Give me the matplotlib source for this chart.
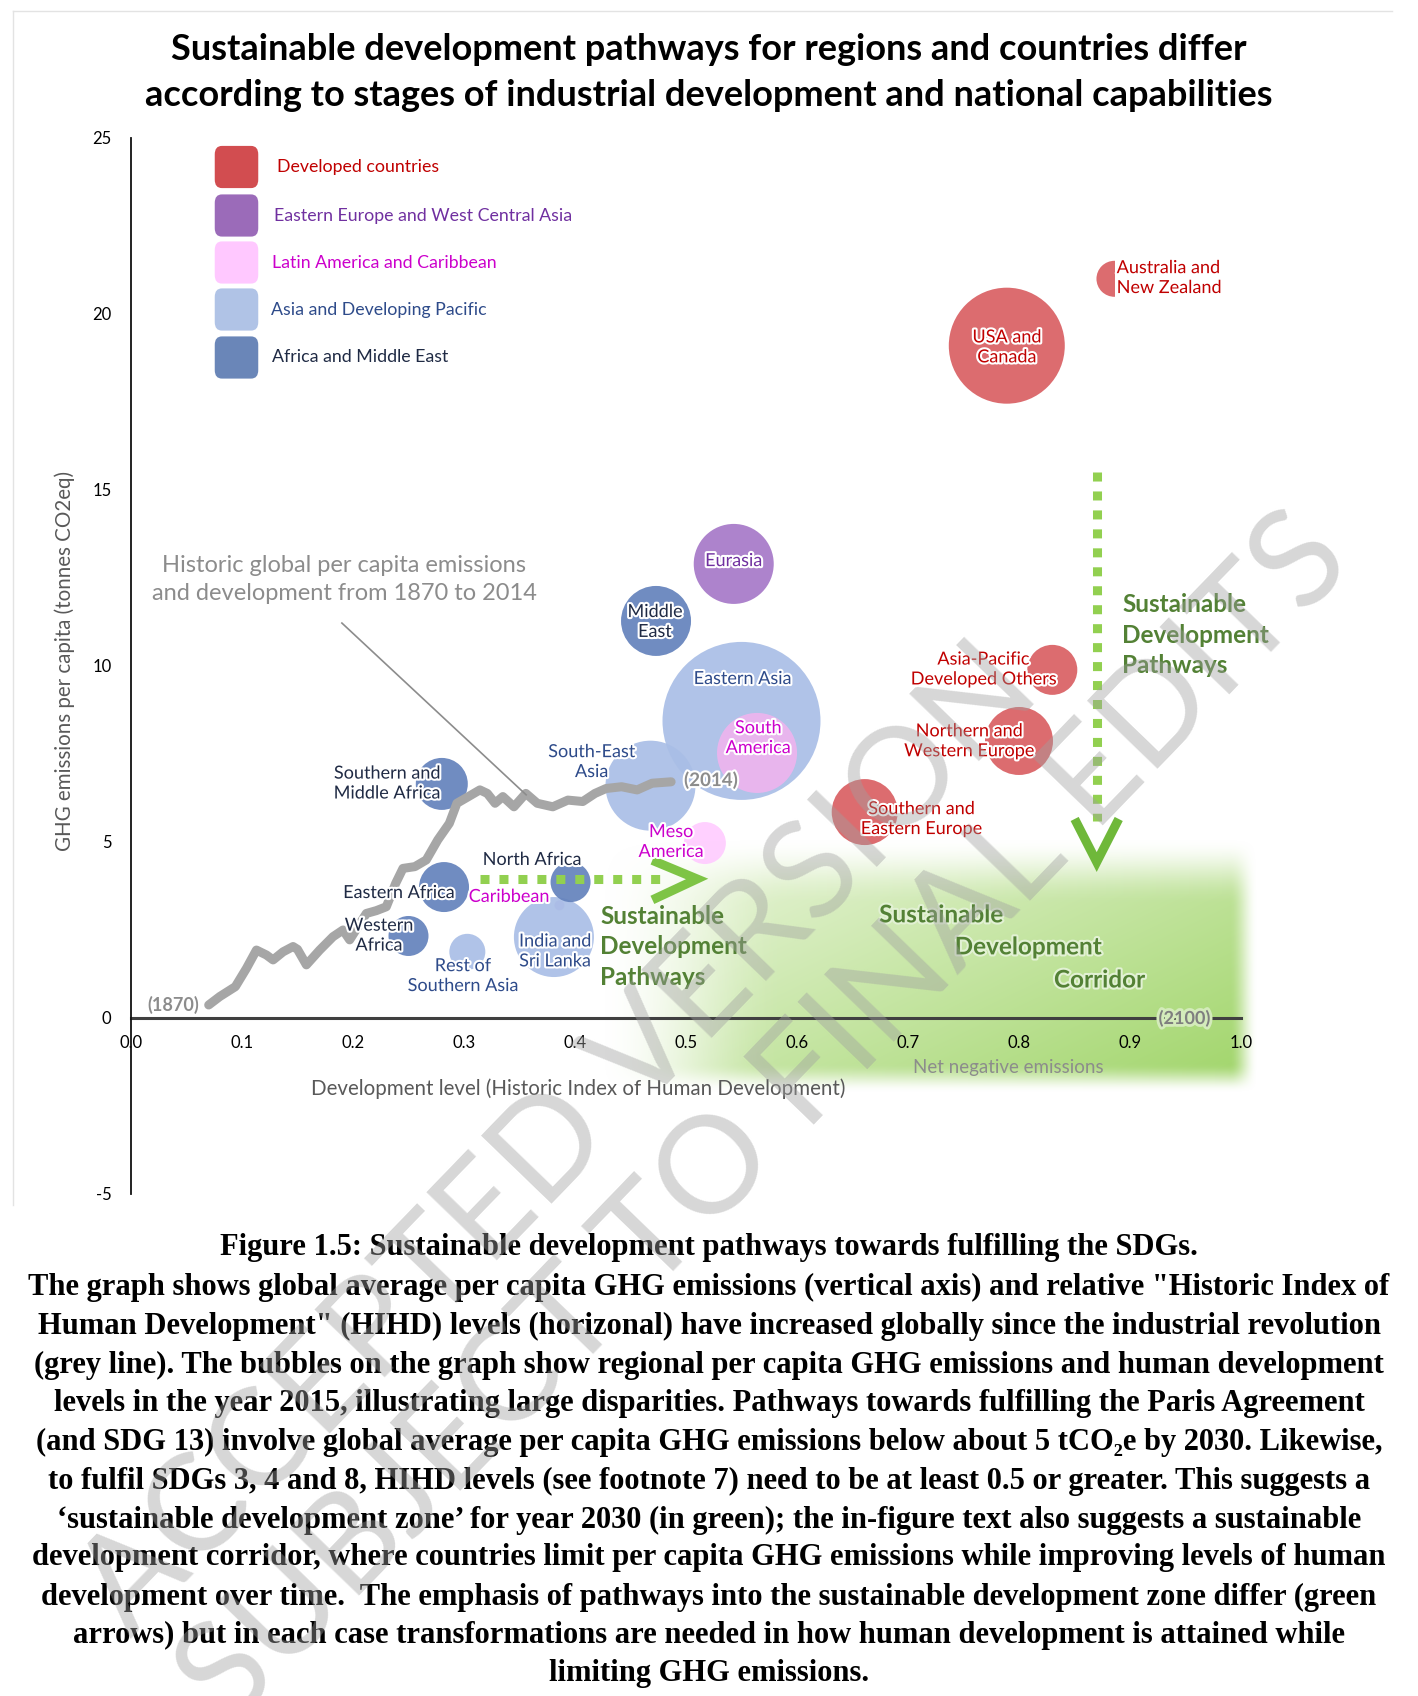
import numpy as np
import matplotlib
matplotlib.use("Agg")
import matplotlib.pyplot as plt
import matplotlib.patheffects as pe
from matplotlib.patches import FancyBboxPatch
from matplotlib.lines import Line2D

# ---- data -------------------------------------------------------------
groups = ["Developed countries", "Eastern Europe and West Central Asia",
          "Latin America and Caribbean", "Asia and Developing Pacific",
          "Africa and Middle East"]
group_colors = ["#D24D50", "#9B6BB9", "#FFC8FF", "#B0C3E6", "#6A86B8"]
group_text = ["#C00000", "#7030A0", "#CC00CC", "#2E4B8A", "#1F2A44"]

regions = ["Australia and New Zealand", "USA and Canada", "Asia-Pacific Developed Others",
           "Northern and Western Europe", "Southern and Eastern Europe", "Eurasia",
           "Eastern Asia", "South America", "Meso America", "Caribbean",
           "South-East Asia", "India and Sri Lanka", "Rest of Southern Asia",
           "Middle East", "North Africa", "Southern and Middle Africa",
           "Eastern Africa", "Western Africa"]
region_group = [0, 0, 0, 0, 0, 1, 3, 2, 2, 2, 3, 3, 3, 4, 4, 4, 4, 4]
hihd = [0.886, 0.789, 0.830, 0.800, 0.661, 0.543, 0.550, 0.564, 0.517, 0.386,
        0.468, 0.381, 0.303, 0.473, 0.396, 0.280, 0.282, 0.250]
ghg = [21.0, 19.1, 9.89, 7.87, 5.85, 12.9, 8.44, 7.53, 4.97, 3.2,
       6.6, 2.30, 1.88, 11.28, 3.86, 6.65, 3.72, 2.33]
bubble_size = [18, 58, 25, 34, 33, 40, 79, 40, 21, 5, 45, 40, 18, 35, 20, 26, 25, 20]

# historic global path 1870-2014
hist_x = [0.070, 0.080, 0.094, 0.104, 0.113, 0.122, 0.128, 0.137, 0.146, 0.150,
          0.158, 0.170, 0.182, 0.191, 0.197, 0.212, 0.221, 0.230, 0.2385, 0.245,
          0.2557, 0.266, 0.2764, 0.2868, 0.2936, 0.304, 0.3143, 0.321, 0.328, 0.335,
          0.345, 0.3557, 0.366, 0.380, 0.3936, 0.407, 0.418, 0.428, 0.442, 0.456,
          0.4695, 0.4866]
hist_y = [0.37, 0.61, 0.89, 1.41, 1.93, 1.79, 1.65, 1.88, 2.03, 1.95,
          1.51, 1.93, 2.31, 2.50, 2.22, 2.97, 3.05, 3.16, 3.83, 4.25,
          4.30, 4.49, 5.06, 5.53, 6.10, 6.29, 6.48, 6.38, 6.10, 6.29,
          6.00, 6.38, 6.10, 6.00, 6.19, 6.15, 6.38, 6.52, 6.57, 6.48,
          6.67, 6.71]

x_ticks = [0.0, 0.1, 0.2, 0.3, 0.4, 0.5, 0.6, 0.7, 0.8, 0.9, 1.0]
y_ticks = [-5, 0, 5, 10, 15, 20, 25]

caption = [
    "Figure 1.5: Sustainable development pathways towards fulfilling the SDGs.",
    "The graph shows global average per capita GHG emissions (vertical axis) and relative \"Historic Index of",
    "Human Development\" (HIHD) levels (horizonal) have increased globally since the industrial revolution",
    "(grey line). The bubbles on the graph show regional per capita GHG emissions and human development",
    "levels in the year 2015, illustrating large disparities. Pathways towards fulfilling the Paris Agreement",
    "(and SDG 13) involve global average per capita GHG emissions below about 5 tCO\u2082e by 2030. Likewise,",
    "to fulfil SDGs 3, 4 and 8, HIHD levels (see footnote 7) need to be at least 0.5 or greater. This suggests a",
    "\u2018sustainable development zone\u2019 for year 2030 (in green); the in-figure text also suggests a sustainable",
    "development corridor, where countries limit per capita GHG emissions while improving levels of human",
    "development over time.  The emphasis of pathways into the sustainable development zone differ (green",
    "arrows) but in each case transformations are needed in how human development is attained while",
    "limiting GHG emissions.",
]

W, H, DPI = 1418, 1696, 100
SANS = "Lato"

fig = plt.figure(figsize=(W / DPI, H / DPI), dpi=DPI)
fig.patch.set_facecolor("white")
# axes box: x 0..1 -> px 131..1241, y -5..25 -> px 1194..138
ax = fig.add_axes([131 / W, (H - 1194) / H, 1110 / W, 1056 / H])
ax.set_xlim(0, 1)
ax.set_ylim(-5, 25)
ax.patch.set_alpha(0)

# faint page border
fig.add_artist(Line2D([13 / W, 13 / W], [1 - 11 / H, 1 - 1205 / H], color="#e3e3e3", lw=1))
fig.add_artist(Line2D([13 / W, 1392 / W], [1 - 11 / H, 1 - 11 / H], color="#e3e3e3", lw=1))

# ---- green zone (gradient) --------------------------------------------
def smooth(t):
    t = np.clip(t, 0, 1)
    return t * t * (3 - 2 * t)

gx = np.linspace(0.40, 1.03, 400)
gy = np.linspace(-2.4, 5.2, 400)
GX, GY = np.meshgrid(gx, gy)
alpha = (smooth((GX - 0.42) / 0.17) * (1 - smooth((GX - 0.99) / 0.025))
         * (1 - smooth((GY - 3.2) / 1.9)) * smooth((GY + 2.15) / 0.85))
t = np.clip((GX - 0.5) / 0.5, 0, 1) * 0.6 + np.clip((3.5 - GY) / 5.0, 0, 1) * 0.4
pale = np.array([0.89, 0.95, 0.82])
strong = np.array([0.64, 0.84, 0.43])
rgba = np.zeros(GX.shape + (4,))
rgba[..., :3] = pale * (1 - t[..., None]) + strong * t[..., None]
rgba[..., 3] = alpha
ax.imshow(rgba, extent=[gx[0], gx[-1], gy[0], gy[-1]], origin="lower",
          aspect="auto", zorder=0, clip_on=False, interpolation="bilinear")
ax.set_xlim(0, 1)
ax.set_ylim(-5, 25)

# ---- spines / ticks ---------------------------------------------------
for s in ["top", "right"]:
    ax.spines[s].set_visible(False)
ax.spines["left"].set_position(("data", 0))
ax.spines["left"].set_linewidth(1.3)
ax.spines["left"].set_color("#111111")
ax.spines["bottom"].set_position(("data", 0))
ax.spines["bottom"].set_linewidth(2.2)
ax.spines["bottom"].set_color("#404040")
ax.spines["bottom"].set_zorder(1)
ax.set_xticks(x_ticks)
ax.set_xticklabels([f"{v:.1f}" for v in x_ticks])
ax.set_yticks(y_ticks)
ax.set_yticklabels([str(v) for v in y_ticks])
ax.tick_params(axis="both", length=0, labelsize=12)
ax.tick_params(axis="x", pad=12)
ax.tick_params(axis="y", pad=14)
for lab in ax.get_xticklabels() + ax.get_yticklabels():
    lab.set_family(SANS)

ax.text(0.403, -2.02, "Development level (Historic Index of Human Development)",
        ha="center", va="center", fontsize=14.8, color="#595959", family=SANS)
ax.text(-0.0595, 10.14, "GHG emissions per capita (tonnes CO2eq)", rotation=90,
        ha="center", va="center", fontsize=14.8, color="#595959", family=SANS,
        clip_on=False)

# ---- bubbles ----------------------------------------------------------
bub_cols = {0: "#D95F63", 1: "#A678C8", 2: "#FFCCFF", 3: "#A9BEE6", 4: "#6482BC"}
face = [bub_cols[g] for g in region_group]
face[regions.index("South America")] = "#EEB4EE"
face[regions.index("Caribbean")] = "#C8A8E8"
sizes = [(2 * r * 72 / DPI) ** 2 for r in bubble_size]
ax.scatter(hihd, ghg, s=sizes, c=face, alpha=0.92, linewidths=0, zorder=2, clip_on=False)

# historic line
ax.plot(hist_x, hist_y, color="#A6A6A6", lw=6.5, solid_capstyle="round",
        solid_joinstyle="round", zorder=3)
ax.plot([0.190, 0.356], [11.22, 6.34], color="#8c8c8c", lw=1.2, zorder=3)

# ---- arrows -----------------------------------------------------------
arrow_green = "#92D050"
ax.plot([0.314, 0.479], [3.95, 3.95], color=arrow_green, lw=6.5,
        linestyle=(0, (1, 1.1)), dash_capstyle="butt", zorder=4)
ax.plot([0.4734, 0.510, 0.4734], [4.43, 3.95, 3.41], color="#7EC445", lw=6.5,
        solid_joinstyle="miter", zorder=4)
ax.plot([0.870, 0.870], [15.5, 5.6], color=arrow_green, lw=6.5,
        linestyle=(0, (1, 1.1)), dash_capstyle="butt", zorder=4)
ax.plot([0.852, 0.870, 0.888], [5.54, 4.43, 5.54], color="#6FB83A", lw=6.5,
        solid_joinstyle="miter", zorder=4)

# ---- labels -----------------------------------------------------------
glow = [pe.withStroke(linewidth=3, foreground="white")]
lbl = [
    ("Australia and\nNew Zealand", 0.888, 21.02, "left", group_text[0]),
    ("USA and\nCanada", 0.789, 19.05, "center", group_text[0]),
    ("Asia-Pacific\nDeveloped Others", 0.768, 9.90, "center", group_text[0]),
    ("Northern and\nWestern Europe", 0.755, 7.86, "center", group_text[0]),
    ("Southern and\nEastern Europe", 0.712, 5.65, "center", group_text[0]),
    ("Eurasia", 0.543, 12.98, "center", group_text[1]),
    ("Eastern Asia", 0.551, 9.63, "center", group_text[3]),
    ("South\nAmerica", 0.565, 7.95, "center", group_text[2]),
    ("Meso\nAmerica", 0.4865, 5.0, "center", group_text[2]),
    ("Caribbean", 0.3405, 3.44, "center", group_text[2]),
    ("South-East\nAsia", 0.415, 7.27, "center", group_text[3]),
    ("India and\nSri Lanka", 0.382, 1.89, "center", group_text[3]),
    ("Rest of\nSouthern Asia", 0.299, 1.19, "center", group_text[3]),
    ("Middle\nEast", 0.472, 11.25, "center", group_text[4]),
    ("North Africa", 0.3613, 4.49, "center", group_text[4]),
    ("Southern and\nMiddle Africa", 0.2306, 6.66, "center", group_text[4]),
    ("Eastern Africa", 0.2414, 3.55, "center", group_text[4]),
    ("Western\nAfrica", 0.2234, 2.34, "center", group_text[4]),
]
for txt, x, y, ha, col in lbl:
    kw = {}
    if txt.startswith("Australia"):
        kw["bbox"] = dict(facecolor="white", edgecolor="none", pad=1)
    ax.text(x, y, txt, ha=ha, va="center", fontsize=13, color=col, family=SANS,
            linespacing=1.3, path_effects=glow, zorder=6, **kw)

ax.text(0.038, 0.37, "(1870)", ha="center", va="center", fontsize=13,
        weight="bold", color="#8c8c8c", family=SANS, zorder=6)
ax.text(0.5225, 6.76, "(2014)", ha="center", va="center", fontsize=13.5,
        weight="bold", color="#8c8c8c", family=SANS, path_effects=glow, zorder=6)
ax.text(0.949, 0.0, "(2100)", ha="center", va="center", fontsize=13,
        weight="bold", color="#7f7f7f", family=SANS, zorder=6,
        path_effects=[pe.withStroke(linewidth=4, foreground="#d4ebbb")])
ax.text(0.790, -1.42, "Net negative emissions", ha="center", va="center",
        fontsize=13.5, color="#8c8c8c", family=SANS, zorder=6)
ax.text(0.192, 12.46, "Historic global per capita emissions\nand development from 1870 to 2014",
        ha="center", va="center", fontsize=17, color="#8c8c8c", family=SANS,
        linespacing=1.4, zorder=6)

dark_green = "#538135"
ax.text(0.893, 10.88, "Sustainable\nDevelopment\nPathways", ha="left", va="center",
        fontsize=17.5, weight="bold", color=dark_green, family=SANS, linespacing=1.4,
        zorder=6, clip_on=False)
ax.text(0.4225, 2.02, "Sustainable\nDevelopment\nPathways", ha="left", va="center",
        fontsize=17.5, weight="bold", color=dark_green, family=SANS, linespacing=1.4,
        zorder=6)
for txt, x, y in [("Sustainable", 0.674, 2.93), ("Development", 0.742, 2.02),
                  ("Corridor", 0.8315, 1.08)]:
    ax.text(x, y, txt, ha="left", va="center", fontsize=17.5, weight="bold",
            color=dark_green, family=SANS, zorder=6,
            path_effects=[pe.withStroke(linewidth=3, foreground="#e2f1d4")])

# ---- legend -----------------------------------------------------------
leg_y = [167, 215.5, 262.5, 309.5, 357.5]
leg_tx = [277, 274, 272, 271, 272]
for i, g in enumerate(groups):
    fig.add_artist(FancyBboxPatch((219 / W, (H - leg_y[i] - 16) / H), 35 / W, 32 / H,
                                  boxstyle="round,pad=0.003,rounding_size=0.005",
                                  transform=fig.transFigure, facecolor=group_colors[i],
                                  edgecolor="none"))
    fig.text(leg_tx[i] / W, 1 - leg_y[i] / H, g, ha="left", va="center", fontsize=12.8,
             color=group_text[i], family=SANS)

# ---- title ------------------------------------------------------------
fig.text(0.5, 1 - 49 / H, "Sustainable development pathways for regions and countries differ",
         ha="center", va="center", fontsize=26, weight="bold", family=SANS)
fig.text(0.5, 1 - 96 / H, "according to stages of industrial development and national capabilities",
         ha="center", va="center", fontsize=26, weight="bold", family=SANS)

# ---- caption ----------------------------------------------------------
cap_y = [1248, 1287, 1326, 1365, 1403, 1442, 1481, 1520, 1558, 1597, 1635, 1674]
for line, yy in zip(caption, cap_y):
    fig.text(0.5, 1 - yy / H, line, ha="center", va="center", fontsize=22,
             weight="bold", family=["Liberation Serif", "DejaVu Serif"])

# ---- watermark --------------------------------------------------------
for txt, cx, cy in [("ACCEPTED VERSION", 560, 1140), ("SUBJECT TO FINAL EDITS", 765, 1120)]:
    fig.text(cx / W, 1 - cy / H, txt, ha="center", va="center", rotation=46,
             rotation_mode="anchor", fontsize=98, color="#a0a0a0", alpha=0.42,
             family=SANS, zorder=20)

fig.savefig("out.png", dpi=DPI)
